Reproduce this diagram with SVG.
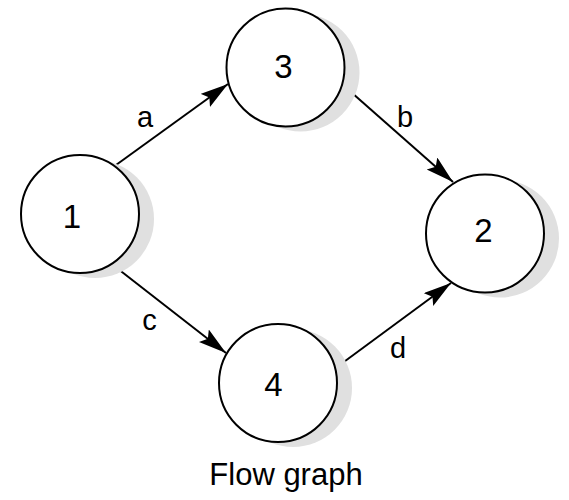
<svg xmlns="http://www.w3.org/2000/svg" width="569" height="500" viewBox="0 0 569 500">
<style>
.shadow{fill:#e0e0e0;stroke:none}
.node{fill:#ffffff;stroke:#000000;stroke-width:2}
.num{font-family:"Liberation Sans",Arial,sans-serif;font-size:33px;fill:#000;text-anchor:middle}
.lbl{font-family:"Liberation Sans",Arial,sans-serif;font-size:29px;fill:#000;text-anchor:middle}
.edge{stroke:#000;stroke-width:2;fill:none;marker-end:url(#arrow)}
</style>
<defs>
<marker id="arrow" markerUnits="userSpaceOnUse" markerWidth="30" markerHeight="18" refX="28" refY="8" orient="auto" viewBox="0 0 30 18">
<path d="M0,0 L28,8 L0,16 L5,8 Z" fill="#000"/>
</marker>
</defs>
<rect width="569" height="500" fill="#ffffff"/>
<g id="connectors">
<line class="edge" x1="116" y1="165" x2="228" y2="84"/>
<line class="edge" x1="343" y1="85" x2="453" y2="182"/>
<line class="edge" x1="113" y1="265" x2="226" y2="353"/>
<line class="edge" x1="337" y1="367" x2="451" y2="283"/>
<text class="lbl" x="145" y="127">a</text>
<text class="lbl" x="405" y="127">b</text>
<text class="lbl" x="149.5" y="330">c</text>
<text class="lbl" x="398" y="358">d</text>
</g>
<g id="node1">
<circle class="shadow" cx="95" cy="219" r="59"/>
<circle class="node" cx="80" cy="214" r="59"/>
<text class="num" x="72" y="228">1</text>
</g>
<g id="node3">
<circle class="shadow" cx="300.5" cy="72.5" r="59"/>
<circle class="node" cx="285.5" cy="67.5" r="59"/>
<text class="num" x="283.5" y="78">3</text>
</g>
<g id="node2">
<circle class="shadow" cx="500" cy="238.5" r="59"/>
<circle class="node" cx="485" cy="233.5" r="59"/>
<text class="num" x="483.5" y="242">2</text>
</g>
<g id="node4">
<circle class="shadow" cx="293" cy="388" r="59"/>
<circle class="node" cx="278" cy="383" r="59"/>
<text class="num" x="273.5" y="396">4</text>
</g>
<g id="caption">
<text x="286" y="485" style="font-family:'Liberation Sans',Arial,sans-serif;font-size:31px;fill:#000;text-anchor:middle">Flow graph</text>
</g>
</svg>
